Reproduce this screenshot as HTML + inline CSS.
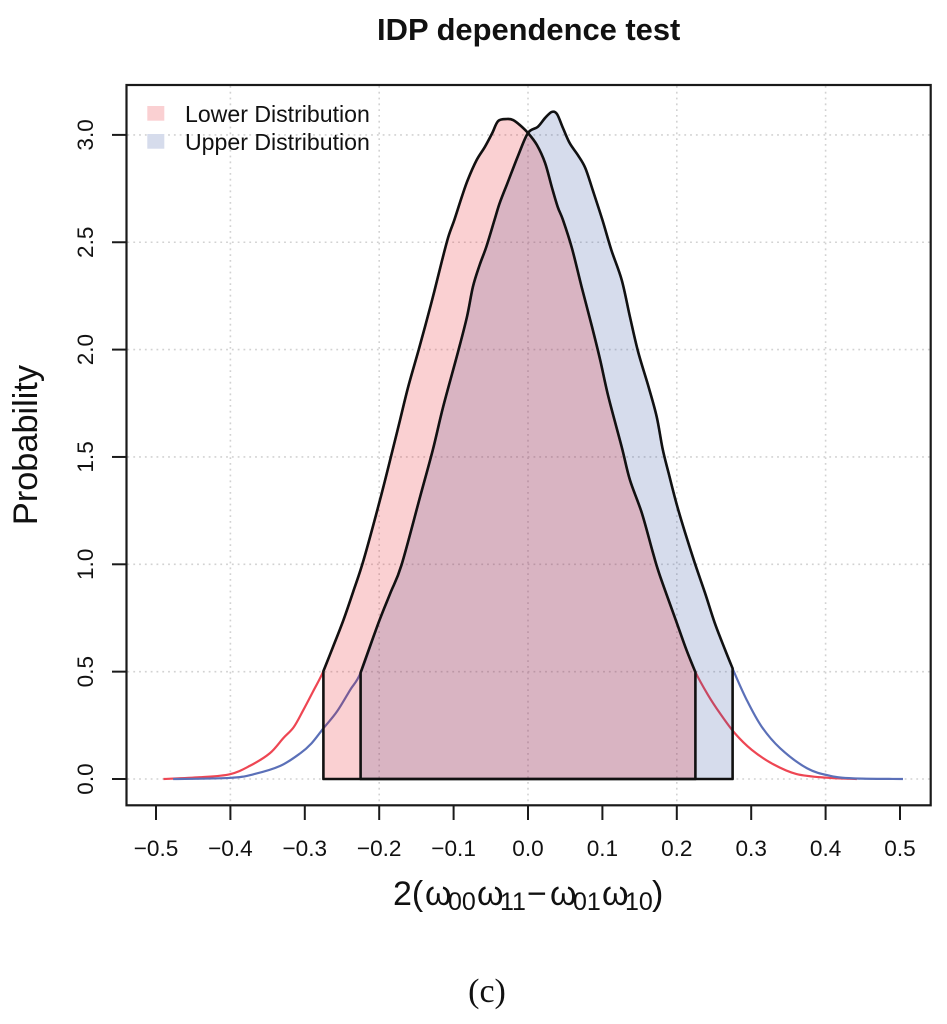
<!DOCTYPE html>
<html lang="en">
<head>
<meta charset="utf-8">
<title>IDP dependence test</title>
<style>
html,body{margin:0;padding:0;background:#fff;width:947px;height:1024px;overflow:hidden}
svg{display:block}
text{font-family:"Liberation Sans",sans-serif;fill:#111}
</style>
</head>
<body>
<svg id="chart" xmlns="http://www.w3.org/2000/svg" width="947" height="1024" viewBox="0 0 947 1024">
  <text x="528.7" y="40" text-anchor="middle" font-size="30.9" font-weight="bold">IDP dependence test</text>
  <g id="grid"></g>
  <g id="tails"></g>
  <g id="fills"></g>
  <g id="outlines"></g>
  <rect x="126.5" y="85" width="804.2" height="720.3" fill="none" stroke="#1a1a1a" stroke-width="2.2"/>
  <g id="x-axis"></g>
  <g id="y-axis"></g>
  <g>
    <rect x="147.3" y="106" width="17" height="14.7" fill="#fad0d2"/>
    <text x="185" y="122" font-size="23.1">Lower Distribution</text>
    <rect x="147.3" y="134" width="17" height="14.7" fill="#d6dcec"/>
    <text x="185" y="150" font-size="23.1">Upper Distribution</text>
  </g>
  <text transform="translate(37,445) rotate(-90)" text-anchor="middle" font-size="34.3">Probability</text>
  <text y="905" font-size="34"><tspan x="393">2(</tspan><tspan x="425">ω</tspan><tspan x="448" y="910" font-size="25">00</tspan><tspan x="477" y="905">ω</tspan><tspan x="500" y="910" font-size="25">11</tspan><tspan x="527" y="905">−</tspan><tspan x="550">ω</tspan><tspan x="573" y="910" font-size="25">01</tspan><tspan x="602" y="905">ω</tspan><tspan x="625" y="910" font-size="25">10</tspan><tspan x="652" y="905">)</tspan></text>
  <text x="487" y="1002" text-anchor="middle" font-size="34" style="font-family:'Liberation Serif',serif">(c)</text>
</svg>
<script>
const xTickValues = [-0.5, -0.4, -0.3, -0.2, -0.1, 0, 0.1, 0.2, 0.3, 0.4, 0.5];
const xTickLabels = ["−0.5", "−0.4", "−0.3", "−0.2", "−0.1", "0.0", "0.1", "0.2", "0.3", "0.4", "0.5"];
const yTickValues = [0, 0.5, 1, 1.5, 2, 2.5, 3];
const yTickLabels = ["0.0", "0.5", "1.0", "1.5", "2.0", "2.5", "3.0"];
const xGridValues = [-0.4, -0.2, 0, 0.2, 0.4];
const lowerBand = [-0.275, 0.225];
const upperBand = [-0.225, 0.275];
const lowerX = [-0.490, -0.441, -0.401, -0.374, -0.347, -0.329, -0.315, -0.302, -0.289, -0.2755, -0.262, -0.248, -0.235, -0.221, -0.199, -0.182, -0.172, -0.161, -0.147, -0.136, -0.126, -0.116, -0.107, -0.099, -0.089, -0.081, -0.069, -0.058, -0.048, -0.040, -0.028, -0.020, -0.011, 0, 0.012, 0.023, 0.032, 0.040, 0.047, 0.059, 0.072, 0.086, 0.097, 0.108, 0.126, 0.137, 0.153, 0.168, 0.177, 0.200, 0.213, 0.225, 0.242, 0.258, 0.278, 0.301, 0.330, 0.361, 0.401, 0.442];
const lowerY = [0, 0.008, 0.022, 0.061, 0.120, 0.190, 0.241, 0.321, 0.407, 0.498, 0.616, 0.741, 0.872, 1.020, 1.299, 1.532, 1.672, 1.827, 1.998, 2.138, 2.270, 2.409, 2.526, 2.604, 2.711, 2.790, 2.883, 2.944, 3.009, 3.065, 3.074, 3.069, 3.046, 3.009, 2.953, 2.869, 2.757, 2.664, 2.604, 2.473, 2.293, 2.107, 1.952, 1.781, 1.546, 1.393, 1.239, 1.053, 0.950, 0.727, 0.601, 0.498, 0.391, 0.306, 0.213, 0.135, 0.068, 0.023, 0.006, 0];
const upperX = [-0.477, -0.401, -0.369, -0.333, -0.306, -0.291, -0.275, -0.257, -0.239, -0.2245, -0.201, -0.185, -0.170, -0.145, -0.128, -0.114, -0.094, -0.082, -0.074, -0.065, -0.056, -0.045, -0.038, -0.027, -0.013, 0, 0.013, 0.023, 0.032, 0.039, 0.047, 0.056, 0.067, 0.077, 0.087, 0.100, 0.112, 0.126, 0.137, 0.148, 0.162, 0.173, 0.181, 0.189, 0.202, 0.222, 0.238, 0.251, 0.265, 0.277, 0.294, 0.314, 0.339, 0.375, 0.406, 0.437, 0.504];
const upperY = [0, 0.005, 0.022, 0.061, 0.120, 0.166, 0.236, 0.313, 0.415, 0.498, 0.727, 0.866, 0.997, 1.315, 1.532, 1.734, 1.990, 2.153, 2.293, 2.394, 2.479, 2.604, 2.683, 2.781, 2.906, 3.009, 3.037, 3.079, 3.107, 3.097, 3.032, 2.962, 2.906, 2.846, 2.743, 2.604, 2.464, 2.324, 2.153, 1.990, 1.827, 1.687, 1.537, 1.425, 1.253, 1.029, 0.866, 0.727, 0.601, 0.498, 0.368, 0.244, 0.143, 0.050, 0.015, 0.003, 0];

const SVGNS = 'http://www.w3.org/2000/svg';
const sx = v => 528 + 744 * v;
const sy = v => 779 - 214.7 * v;
function mk(parent, tag, attrs, text) {
  const el = document.createElementNS(SVGNS, tag);
  for (const k in attrs) el.setAttribute(k, attrs[k]);
  if (text !== undefined) el.textContent = text;
  parent.appendChild(el);
  return el;
}
function interp(xs, ys, x) {
  for (let i = 1; i < xs.length; i++) {
    if (x <= xs[i]) {
      const t = (x - xs[i - 1]) / (xs[i] - xs[i - 1]);
      return ys[i - 1] + t * (ys[i] - ys[i - 1]);
    }
  }
  return ys[ys.length - 1];
}
function bandPoints(xs, ys, band) {
  const pts = [[band[0], interp(xs, ys, band[0])]];
  xs.forEach((x, i) => { if (x > band[0] + 0.002 && x < band[1] - 0.002) pts.push([x, ys[i]]); });
  pts.push([band[1], interp(xs, ys, band[1])]);
  return pts;
}
function smoothSegments(pts) {
  const p = pts.map(q => [sx(q[0]), sy(q[1])]);
  let d = '';
  for (let i = 0; i < p.length - 1; i++) {
    const a = p[Math.max(i - 1, 0)], b = p[i], c = p[i + 1], e = p[Math.min(i + 2, p.length - 1)];
    const c1x = b[0] + (c[0] - a[0]) / 6, c1y = b[1] + (c[1] - a[1]) / 6;
    const c2x = c[0] - (e[0] - b[0]) / 6, c2y = c[1] - (e[1] - b[1]) / 6;
    d += ' C' + c1x.toFixed(2) + ' ' + c1y.toFixed(2) + ' ' + c2x.toFixed(2) + ' ' + c2y.toFixed(2) + ' ' + c[0].toFixed(2) + ' ' + c[1].toFixed(2);
  }
  return d;
}
const openPath = pts => 'M' + sx(pts[0][0]).toFixed(2) + ' ' + sy(pts[0][1]).toFixed(2) + smoothSegments(pts);
function closedPath(pts) {
  const first = pts[0], last = pts[pts.length - 1];
  return 'M' + sx(first[0]).toFixed(2) + ' ' + sy(0).toFixed(2) +
    ' L' + sx(first[0]).toFixed(2) + ' ' + sy(first[1]).toFixed(2) +
    smoothSegments(pts) +
    ' L' + sx(last[0]).toFixed(2) + ' ' + sy(0).toFixed(2) + ' Z';
}

const grid = document.getElementById('grid');
yTickValues.forEach(v => {
  const l = mk(grid, 'line', {x1: 127.5, x2: 930, y1: sy(v), y2: sy(v), stroke: '#d2d2d2', 'stroke-width': 1.6, 'stroke-dasharray': '1.8 4'});
  
  
});
xGridValues.forEach(v => {
  const l = mk(grid, 'line', {x1: sx(v), x2: sx(v), y1: 86, y2: 804, stroke: '#d2d2d2', 'stroke-width': 1.6, 'stroke-dasharray': '1.8 4'});
  
  
});

const tails = document.getElementById('tails');
const lowerLine = mk(tails, 'path', {d: openPath(lowerX.map((x, i) => [x, lowerY[i]])), fill: 'none', stroke: '#ee4653', 'stroke-width': 2.2});


const upperLine = mk(tails, 'path', {d: openPath(upperX.map((x, i) => [x, upperY[i]])), fill: 'none', stroke: '#5b70b8', 'stroke-width': 2.2});



const lowerPts = bandPoints(lowerX, lowerY, lowerBand);
const upperPts = bandPoints(upperX, upperY, upperBand);

const fills = document.getElementById('fills');
const upperFill = mk(fills, 'path', {d: closedPath(upperPts), fill: 'rgb(50,80,160)', 'fill-opacity': 0.2});


const lowerFill = mk(fills, 'path', {d: closedPath(lowerPts), fill: 'rgb(230,20,30)', 'fill-opacity': 0.2});



const outlines = document.getElementById('outlines');
const upperOutline = mk(outlines, 'path', {d: closedPath(upperPts), fill: 'none', stroke: '#111', 'stroke-width': 2.6, 'stroke-linejoin': 'round'});


const lowerOutline = mk(outlines, 'path', {d: closedPath(lowerPts), fill: 'none', stroke: '#111', 'stroke-width': 2.6, 'stroke-linejoin': 'round'});



const xAxis = document.getElementById('x-axis');
xTickValues.forEach((v, i) => {
  const t = mk(xAxis, 'line', {x1: sx(v), x2: sx(v), y1: 805, y2: 820, stroke: '#1a1a1a', 'stroke-width': 2});
  
  
  const l = mk(xAxis, 'text', {x: sx(v), y: 856, 'text-anchor': 'middle', 'font-size': 22.6}, xTickLabels[i]);
  
  
});
const yAxis = document.getElementById('y-axis');
yTickValues.forEach((v, i) => {
  const t = mk(yAxis, 'line', {x1: 112, x2: 126.5, y1: sy(v), y2: sy(v), stroke: '#1a1a1a', 'stroke-width': 2});
  
  
  const l = mk(yAxis, 'text', {transform: 'translate(93,' + sy(v) + ') rotate(-90)', 'text-anchor': 'middle', 'font-size': 22.6}, yTickLabels[i]);
  
  
});
</script>
</body>
</html>
